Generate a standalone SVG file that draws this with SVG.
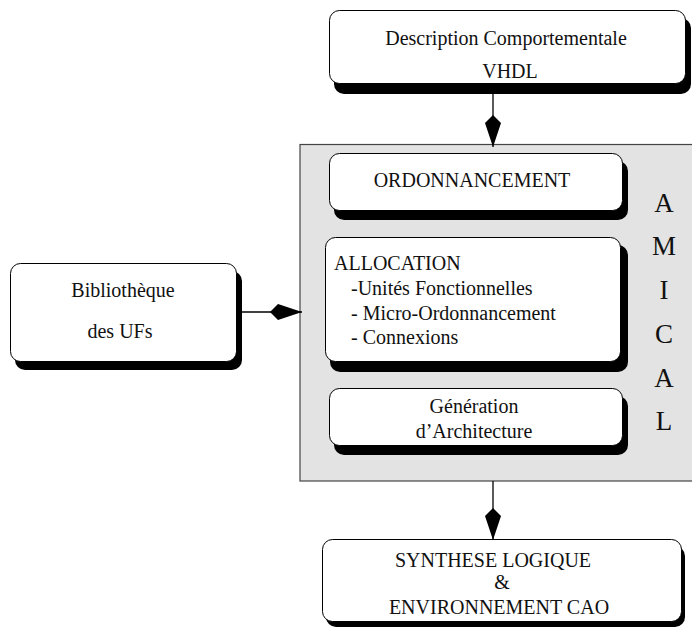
<svg xmlns="http://www.w3.org/2000/svg" width="692" height="628" viewBox="0 0 692 628">
  <style>
    .box { fill: #ffffff; stroke: #000000; stroke-width: 1; }
    .shadow { fill: #000000; }
    .panel { fill: #e3e3e3; stroke: #444444; stroke-width: 1.2; }
    .lbl { font-family: "Liberation Serif", "Times New Roman", serif; font-size: 20px; fill: #111111; }
    .mid { text-anchor: middle; }
    .big { font-family: "Liberation Serif", "Times New Roman", serif; font-size: 27px; fill: #111111; text-anchor: middle; }
    .wire { stroke: #000000; stroke-width: 1.3; fill: none; marker-end: url(#diamond); }
  </style>
  <defs>
    <marker id="diamond" markerUnits="userSpaceOnUse" markerWidth="34" markerHeight="18" viewBox="0 -9 34 18" refX="32" refY="0" orient="auto">
      <path d="M0,0 L8,-8 L32,0 L8,8 Z" fill="#000000"/>
    </marker>
  </defs>

  <!-- AMICAL tool panel -->
  <g id="amical">
    <rect class="panel" x="300" y="144.5" width="420" height="336.5"/>
    <text class="big" x="664" y="212">A</text>
    <text class="big" x="664" y="255">M</text>
    <text class="big" x="664" y="299">I</text>
    <text class="big" x="664" y="343">C</text>
    <text class="big" x="664" y="387">A</text>
    <text class="big" x="664" y="430">L</text>
  </g>

  <!-- connectors -->
  <g id="connectors">
    <line class="wire" x1="493" y1="92" x2="493" y2="147"/>
    <line class="wire" x1="237" y1="312" x2="302" y2="312"/>
    <line class="wire" x1="493" y1="481" x2="493" y2="540"/>
  </g>

  <g id="vhdl">
    <rect class="shadow" x="334" y="18" width="357" height="76" rx="10"/>
    <rect class="box" x="329.5" y="10.5" width="356" height="73" rx="10"/>
    <text class="lbl mid" x="506" y="45">Description Comportementale</text>
    <text class="lbl mid" x="510" y="78">VHDL</text>
  </g>

  <g id="ordonnancement">
    <rect class="shadow" x="334" y="161" width="294" height="59" rx="10"/>
    <rect class="box" x="329.5" y="153.5" width="293" height="57" rx="10"/>
    <text class="lbl mid" x="472" y="187">ORDONNANCEMENT</text>
  </g>

  <g id="allocation">
    <rect class="shadow" x="330" y="245" width="298" height="127" rx="10"/>
    <rect class="box" x="325.5" y="237.5" width="295" height="124" rx="10"/>
    <text class="lbl" x="334" y="270">ALLOCATION</text>
    <text class="lbl" x="351" y="295">-Unités Fonctionnelles</text>
    <text class="lbl" x="351" y="320">- Micro-Ordonnancement</text>
    <text class="lbl" x="351" y="344">- Connexions</text>
  </g>

  <g id="generation">
    <rect class="shadow" x="334" y="396" width="294" height="59" rx="10"/>
    <rect class="box" x="329.5" y="388.5" width="293" height="57" rx="10"/>
    <text class="lbl mid" x="474" y="413">Génération</text>
    <text class="lbl mid" x="474" y="438">d’Architecture</text>
  </g>

  <g id="bibliotheque">
    <rect class="shadow" x="15" y="271" width="227" height="99" rx="10"/>
    <rect class="box" x="10.5" y="263.5" width="226" height="98" rx="10"/>
    <text class="lbl mid" x="123" y="297">Bibliothèque</text>
    <text class="lbl mid" x="120" y="338">des UFs</text>
  </g>

  <g id="synthese">
    <rect class="shadow" x="326" y="546" width="359" height="81" rx="10"/>
    <rect class="box" x="322.5" y="539.5" width="359" height="82" rx="10"/>
    <text class="lbl mid" x="493" y="567">SYNTHESE LOGIQUE</text>
    <text class="lbl mid" x="502" y="589">&amp;</text>
    <text class="lbl mid" x="499" y="614">ENVIRONNEMENT CAO</text>
  </g>
</svg>
